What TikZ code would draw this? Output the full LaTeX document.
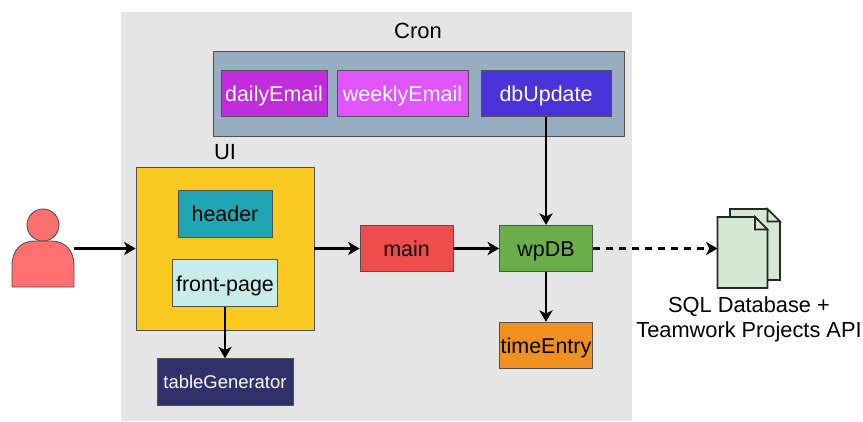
\documentclass[tikz,border=0pt]{standalone}
\usepackage{fontspec}
\setmainfont{Liberation Sans}
\usetikzlibrary{arrows.meta}
\definecolor{bggray}{HTML}{E5E5E5}
\definecolor{cronblue}{HTML}{97ADC1}
\definecolor{dailypurple}{HTML}{C02BDC}
\definecolor{weeklypink}{HTML}{E055FF}
\definecolor{dbindigo}{HTML}{4A33D8}
\definecolor{uiyellow}{HTML}{F9C91F}
\definecolor{headerteal}{HTML}{20A5B2}
\definecolor{frontcyan}{HTML}{C6ECEC}
\definecolor{tablenavy}{HTML}{30306B}
\definecolor{mainred}{HTML}{EF4C4C}
\definecolor{wpgreen}{HTML}{6AAE4A}
\definecolor{timeorange}{HTML}{F09020}
\definecolor{userred}{HTML}{FF7070}
\definecolor{docgreen}{HTML}{D5E8D4}
\definecolor{edgegray}{HTML}{505050}
\tikzset{
	box/.style={draw=edgegray, line width=0.5pt, inner sep=0pt, minimum height=0.93cm, text height=11.5pt, text depth=2.3pt, font=\fontsize{12.2}{14}\selectfont},
	title/.style={font=\fontsize{12.5}{14}\selectfont, inner sep=0pt},
	link/.style={line width=1.25pt, -{Stealth[length=6.5pt,width=7.5pt,inset=1.8pt]}},
	doc/.style={draw=black!85, line width=0.9pt, fill=docgreen}
}

\begin{document}
\begin{tikzpicture}
\useasboundingbox (0,0) rectangle (17.26,8.42);

\fill[bggray] (2.41,0) rectangle (12.64,8.18);

% cron group
\node[title] (cronlabel) at (8.36,7.80) {Cron};
\node[box, fill=cronblue, minimum width=8.22cm, minimum height=1.70cm] (cron) at (8.37,6.55) {};
\node[box, fill=dailypurple, text=white, minimum width=2.12cm] (daily) at (5.48,6.55) {dailyEmail};
\node[box, fill=weeklypink, text=white, minimum width=2.62cm] (weekly) at (8.05,6.55) {weeklyEmail};
\node[box, fill=dbindigo, text=white, minimum width=2.60cm] (dbupdate) at (10.92,6.55) {dbUpdate};

% ui group
\node[title] (uilabel) at (4.50,5.38) {UI};
\node[box, fill=uiyellow, minimum width=3.56cm, minimum height=3.26cm] (ui) at (4.50,3.45) {};
\node[box, fill=headerteal, minimum width=1.88cm] (header) at (4.50,4.145) {header};
\node[box, fill=frontcyan, minimum width=2.09cm] (frontpage) at (4.50,2.76) {front-page};
\node[box, fill=tablenavy, text=white, minimum width=2.72cm, text height=9.5pt, text depth=2.5pt, font=\fontsize{10.5}{12}\selectfont] (tablegen) at (4.50,0.78) {tableGenerator};

\node[box, fill=mainred, minimum width=1.86cm] (main) at (8.13,3.45) {main};
\node[box, fill=wpgreen, minimum width=1.86cm] (wpdb) at (10.92,3.45) {wpDB};
\node[box, fill=timeorange, minimum width=1.86cm] (timeentry) at (10.92,1.51) {timeEntry};

% user
\draw[draw=edgegray, line width=0.5pt, fill=userred] (0.24,2.68) -- (0.24,3.10) .. controls (0.24,3.42) and (0.42,3.60) .. (0.70,3.60) -- (1.02,3.60) .. controls (1.30,3.60) and (1.48,3.42) .. (1.48,3.10) -- (1.48,2.68) -- cycle;
\draw[draw=edgegray, line width=0.5pt, fill=userred] (0.86,3.92) circle (0.32cm);
\coordinate (user) at (1.48,3.45);

% documents
\foreach \dx/\dy in {0.25/0.16, 0/0} {
	\begin{scope}[xshift=\dx cm, yshift=\dy cm]
	\draw[doc] (14.35,2.66) -- (14.35,4.08) -- (15.10,4.08) -- (15.35,3.83) -- (15.35,2.66) -- cycle;
	\draw[doc] (15.10,4.08) -- (15.10,3.83) -- (15.35,3.83) -- cycle;
	\end{scope}
}
\coordinate (docs) at (14.35,3.45);
\node[align=center, inner sep=0pt, font=\fontsize{12.4}{14.2}\selectfont] (sqllabel) at (14.98,2.03) {SQL Database +\\Teamwork Projects API};

% connectors
\draw[link] (user) -- (ui);
\draw[link] (ui) -- (main);
\draw[link] (main) -- (wpdb);
\draw[link] (dbupdate) -- (wpdb);
\draw[link] (wpdb) -- (timeentry);
\draw[link] (frontpage) -- (tablegen);
\draw[link, dash pattern=on 4pt off 3.4pt] (wpdb) -- (docs);
\end{tikzpicture}
\end{document}
